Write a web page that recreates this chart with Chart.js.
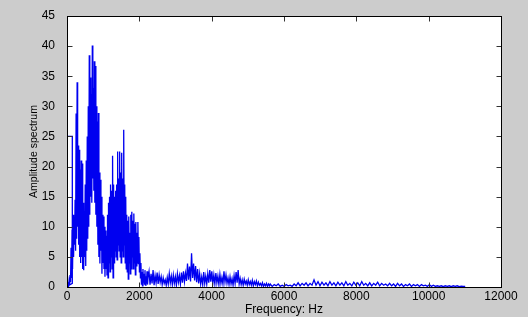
<!DOCTYPE html>
<html>
<head>
<meta charset="utf-8">
<script src="https://cdn.jsdelivr.net/npm/chart.js@4.4.1/dist/chart.umd.min.js"></script>
<style>
  html, body { margin: 0; padding: 0; background: #cccccc; }
</style>
</head>
<body>
<canvas id="spectrumChart" width="528" height="317"></canvas>
<script>
const xTicks = [0, 2000, 4000, 6000, 8000, 10000, 12000];
const yTicks = [0, 5, 10, 15, 20, 25, 30, 35, 40, 45];
const xTitle = "Frequency: Hz";
const yTitle = "Amplitude spectrum";

// odd little box at the very start of the trace
const leadFreq = [0, 147, 147];
const leadAmp = [25, 25, 0.6];

// 0 - 2240 Hz, 14 Hz bins
const lowStart = 0;
const lowStep = 14;
const lowAmp = [
  0.1, 0.3, 0.5, 0.2, 1.0, 0.4, 2.0, 0.8, 6.5, 1.5,
  9.5, 3.0, 12.0, 5.0, 11.0, 7.0, 14.5, 6.0, 28.8, 8.0,
  34.0, 10.0, 23.5, 7.0, 22.8, 5.0, 19.5, 4.0, 21.0, 5.0,
  20.5, 3.0, 14.0, 2.8, 12.5, 5.0, 17.0, 3.5, 21.0, 6.0,
  25.0, 8.0, 30.0, 10.0, 38.5, 12.0, 34.8, 15.0, 32.0, 14.0,
  40.1, 18.0, 33.0, 16.0, 37.5, 14.0, 36.7, 12.0, 30.0, 10.0,
  27.5, 7.0, 28.9, 5.0, 19.0, 3.9, 17.8, 6.0, 15.0, 2.2,
  12.0, 4.0, 11.7, 3.0, 10.0, 1.7, 9.4, 3.0, 8.5, 2.0,
  12.0, 1.5, 14.0, 4.0, 15.0, 2.5, 17.0, 5.0, 16.0, 3.0,
  21.8, 1.5, 17.0, 4.0, 15.0, 6.0, 16.0, 5.0, 17.0, 4.5,
  22.5, 7.0, 18.0, 6.0, 22.5, 5.0, 19.0, 4.0, 22.3, 6.0,
  18.0, 5.0, 26.1, 7.0, 17.0, 4.0, 15.0, 3.0, 12.0, 2.5,
  11.0, 1.3, 11.7, 4.0, 9.0, 2.2, 12.0, 3.0, 12.5, 5.0,
  11.0, 3.0, 12.2, 4.0, 10.5, 2.0, 10.8, 3.5, 9.0, 4.0,
  10.8, 3.9, 8.3, 2.5, 5.6, 1.5, 4.0, 0.5, 2.5, 0.2,
  3.0, 0.8, 2.2, 0.5, 2.8, 0.3, 1.8, 0.6, 2.6, 0.4,
  1.6
];

// 2268 - 5600 Hz, 28 Hz bins
const midStart = 2268;
const midStep = 28;
const midAmp = [
  2.6, 0.4, 2.2, 0.6, 2.8, 0.3, 1.9, 0.7, 2.4, 0.5,
  2.0, 0.8, 1.7, 0.4, 1.5, 0.6, 1.2, 0.3, 1.6, 0.5,
  2.2, 0.7, 1.8, 0.4, 2.0, 0.6, 1.7, 0.3, 2.2, 0.8,
  1.9, 0.5, 2.4, 0.7, 2.6, 0.9, 2.3, 1.0, 3.9, 1.2,
  3.4, 0.9, 5.6, 1.5, 3.9, 1.1, 3.5, 0.8, 3.0, 0.6,
  2.2, 0.5, 1.7, 0.4, 2.5, 0.6, 1.8, 0.5, 2.2, 0.7,
  2.8, 0.9, 2.6, 0.6, 2.0, 0.5, 2.3, 0.7, 1.8, 0.4,
  2.1, 0.6, 1.6, 0.5, 2.6, 0.8, 2.0, 0.6, 1.5, 0.4,
  1.7, 0.5, 1.4, 0.3, 1.9, 0.6, 2.5, 0.7, 2.8, 0.5,
  1.4, 0.4, 1.2, 0.3, 1.3, 0.5, 1.0, 0.3, 1.2, 0.4,
  0.9, 0.3, 1.1, 0.2, 0.9, 0.4, 1.0, 0.2, 0.8, 0.3,
  0.6, 0.2, 0.7, 0.1, 0.5, 0.2, 0.6, 0.1, 0.5, 0.2
];

// 5620 - 11010 Hz, 55 Hz bins
const highStart = 5620;
const highStep = 55;
const highAmp = [
  0.5, 0.1, 0.4, 0.2, 0.5, 0.1, 0.3, 0.1, 0.4, 0.2,
  0.3, 0.1, 0.5, 0.2, 0.7, 0.2, 0.6, 0.3, 0.7, 0.2,
  0.6, 0.3, 1.2, 0.3, 0.9, 0.2, 0.8, 0.3, 0.7, 0.2,
  0.9, 0.3, 0.7, 0.2, 0.8, 0.3, 0.7, 0.2, 0.9, 0.3,
  0.6, 0.2, 0.8, 0.3, 0.7, 0.2, 0.9, 0.3, 0.6, 0.2,
  0.7, 0.2, 0.6, 0.3, 0.8, 0.2, 0.6, 0.3, 0.5, 0.2,
  0.6, 0.2, 0.5, 0.1, 0.6, 0.2, 0.5, 0.1, 0.4, 0.2,
  0.5, 0.1, 0.4, 0.2, 0.4, 0.1, 0.4, 0.2, 0.3, 0.1,
  0.4, 0.1, 0.3, 0.1, 0.2, 0.1, 0.2, 0.05, 0.2, 0.1,
  0.2, 0.05, 0.2, 0.1, 0.2, 0.05, 0.15, 0.1, 0.1
];

function bandPoints(start, step, amps) {
  return amps.map((a, i) => ({ x: start + i * step, y: a }));
}

const spectrum = [
  ...leadFreq.map((f, i) => ({ x: f, y: leadAmp[i] })),
  ...bandPoints(lowStart, lowStep, lowAmp),
  ...bandPoints(midStart, midStep, midAmp),
  ...bandPoints(highStart, highStep, highAmp),
];

const FONT = "'Liberation Sans', Arial, sans-serif";

// MATLAB look: grey figure, white axes, inward ticks on all four sides
const matlabAxes = {
  id: "matlabAxes",
  beforeDraw(chart) {
    const { ctx, chartArea: a } = chart;
    ctx.save();
    ctx.fillStyle = "#cccccc";
    ctx.fillRect(0, 0, chart.width, chart.height);
    ctx.fillStyle = "#ffffff";
    ctx.fillRect(a.left, a.top, a.right - a.left, a.bottom - a.top);
    ctx.restore();
  },
  afterDraw(chart) {
    const { ctx, chartArea: a, scales } = chart;
    const L = Math.round(a.left) + 0.5;
    const R = Math.round(a.right) + 0.5;
    const T = Math.round(a.top) + 0.5;
    const B = Math.round(a.bottom) + 0.5;
    ctx.save();
    ctx.lineWidth = 1;
    ctx.strokeStyle = "#333333";
    ctx.beginPath();
    xTicks.forEach((v) => {
      const px = Math.round(scales.x.getPixelForValue(v)) + 0.5;
      ctx.moveTo(px, B); ctx.lineTo(px, B - 5);
      ctx.moveTo(px, T); ctx.lineTo(px, T + 5);
    });
    yTicks.forEach((v) => {
      const py = Math.round(scales.y.getPixelForValue(v)) + 0.5;
      ctx.moveTo(L, py); ctx.lineTo(L + 5, py);
      ctx.moveTo(R, py); ctx.lineTo(R - 5, py);
    });
    ctx.stroke();
    ctx.strokeStyle = "#000000";
    ctx.strokeRect(L, T, R - L, B - T);

    // x tick labels
    ctx.fillStyle = "#000";
    ctx.font = "12px " + FONT;
    ctx.textAlign = "center";
    ctx.textBaseline = "alphabetic";
    xTicks.forEach((v) => {
      ctx.fillText(String(v), scales.x.getPixelForValue(v), a.bottom + 12.5);
    });

    // axis titles
    ctx.fillText(xTitle, (a.left + a.right) / 2, a.bottom + 26);
    ctx.font = "10.5px " + FONT;
    ctx.translate(34, (a.top + a.bottom) / 2);
    ctx.rotate(-Math.PI / 2);
    ctx.textBaseline = "middle";
    ctx.fillText(yTitle, 0, 0);
    ctx.restore();
  },
};

function createSpectrumChart() {
  const tickFont = { family: FONT, size: 12 };

  const config = {
    type: "line",
    data: {
      datasets: [
        {
          data: spectrum,
          borderColor: "#0000f0",
          borderWidth: 1.3,
          pointRadius: 0,
          fill: false,
          tension: 0,
        },
      ],
    },
    options: {
      responsive: false,
      animation: false,
      events: [],
      layout: { padding: { left: 0, top: 16, right: 27, bottom: 0 } },
      plugins: { legend: false, tooltip: { enabled: false } },
      scales: {
        x: {
          type: "linear",
          min: 0,
          max: 12000,
          afterFit: (scale) => { scale.height = 30; },
          afterBuildTicks: (scale) => { scale.ticks = xTicks.map((v) => ({ value: v })); },
          grid: { display: false },
          border: { display: false },
          ticks: { display: false },
        },
        y: {
          type: "linear",
          min: 0,
          max: 45,
          afterFit: (scale) => { scale.width = 67; },
          afterBuildTicks: (scale) => { scale.ticks = yTicks.map((v) => ({ value: v })); },
          grid: { display: false },
          border: { display: false },
          ticks: { font: tickFont, color: "#000", padding: 4, callback: (v) => String(v) },
        },
      },
    },
    plugins: [matlabAxes],
  };

  const ctx = document.getElementById("spectrumChart");
  new Chart(ctx, config);
}

document.addEventListener("DOMContentLoaded", () => {
  createSpectrumChart();
});
</script>
</body>
</html>
